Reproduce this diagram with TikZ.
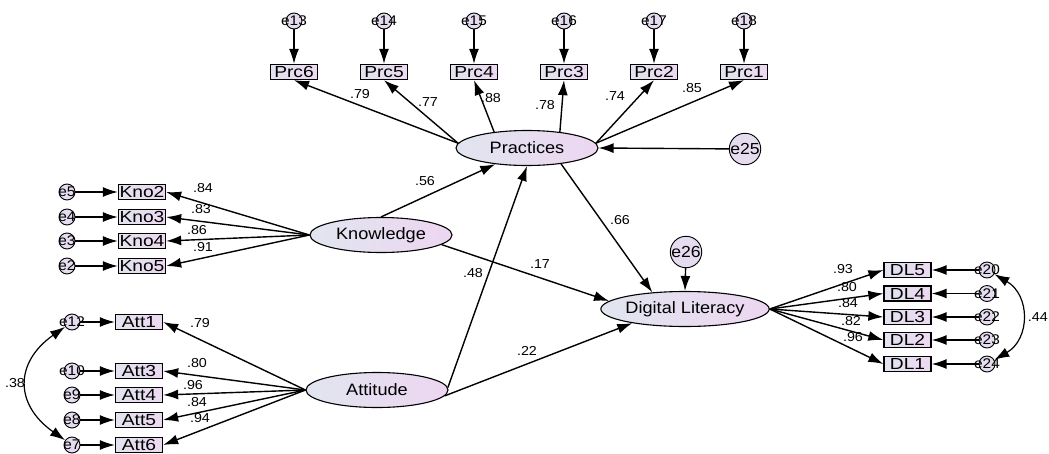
\documentclass[tikz,border=0pt]{standalone}
\usepackage{fontspec}
\setmainfont{Liberation Sans}[FakeStretch=1.1]
\newfontfamily\boxfont{Liberation Sans}[FakeStretch=1.2]
\usetikzlibrary{arrows.meta,shapes.geometric}

\definecolor{latL}{HTML}{E1E5EF}
\definecolor{latR}{HTML}{EDD6F1}
\definecolor{obsL}{HTML}{E2E3EE}
\definecolor{obsR}{HTML}{ECD9F1}
\definecolor{errfill}{HTML}{E6DCF0}

\tikzset{
  latent/.style={ellipse, draw, line width=1.1pt, left color=latL, right color=latR,
    minimum width=142pt, minimum height=35pt, inner sep=0pt, font=\fontsize{16.5}{18}\selectfont},
  obs/.style={rectangle, draw, line width=1.3pt, left color=obsL, right color=obsR,
    minimum width=47pt, minimum height=15pt, inner sep=0pt, font=\boxfont\fontsize{16}{16}\selectfont},
  errlab/.style={font=\fontsize{14}{14}\selectfont, inner sep=0pt},
  err/.style={circle, draw, line width=0.9pt, fill=errfill, minimum size=16pt, inner sep=0pt,
    label={[errlab]center:#1}},
  bigerr/.style={circle, draw, line width=0.9pt, fill=errfill, minimum size=30pt, inner sep=0pt,
    font=\fontsize{16}{16}\selectfont},
  arr/.style={line width=1.4pt, -{Latex[length=15pt,width=10pt]}},
  cov/.style={line width=1.2pt, {Latex[length=15pt,width=10pt]}-{Latex[length=15pt,width=10pt]}},
  coef/.style={font=\fontsize{13}{13}\selectfont, inner sep=1pt}
}

\begin{document}
\begin{tikzpicture}[x=1pt, y=1pt]
    \useasboundingbox (0,0) rectangle (1049,-453);

    % Latent variables
    \node[latent] (Pra) at (527,-148) {Practices};
    \node[latent] (Kno) at (381,-235) {Knowledge};
    \node[latent] (Att) at (377,-390) {Attitude};
    \node[latent] (DL) at (685,-309) {Digital Literacy};

    % Practices indicators with their errors
    \foreach \i/\x/\e/\a in {6/294/13/176, 5/384/14/176, 4/474/15/154, 3/564/16/26, 2/654/17/4, 1/744/18/4}{
        \node[obs] (Prc\i) at (\x,-72) {Prc\i};
        \node[err=e\e] (e\e) at (\x,-21) {};
        \draw[arr] (e\e) -- (Prc\i);
        \draw[arr] (Pra.\a) -- (Prc\i.south);
    }

    % Knowledge indicators
    \foreach \i/\y/\e in {2/192/5, 3/217/4, 4/241/3, 5/266/2}{
        \node[obs] (Kno\i) at (142,-\y) {Kno\i};
        \node[err=e\e] (e\e) at (67,-\y) {};
        \draw[arr] (e\e) -- (Kno\i);
        \draw[arr] (Kno.west) -- (Kno\i.east);
    }

    % Attitude indicators
    \foreach \i/\y/\e in {1/322/12, 3/371/10, 4/395/9, 5/420/8, 6/445/7}{
        \node[obs] (Att\i) at (139,-\y) {Att\i};
        \node[err=e\e] (e\e) at (72,-\y) {};
        \draw[arr] (e\e) -- (Att\i);
        \draw[arr] (Att.west) -- (Att\i.east);
    }

    % Digital literacy indicators
    \foreach \i/\y/\e in {5/270/20, 4/293.5/21, 3/317/22, 2/340/23, 1/364/24}{
        \node[obs] (DL\i) at (907.5,-\y) {DL\i};
        \node[err=e\e] (e\e) at (987,-\y) {};
        \draw[arr] (e\e) -- (DL\i);
        \draw[arr] (DL.east) -- (DL\i.west);
    }

    % Structural paths
    \draw[arr] (Kno.north) -- (Pra.207);
    \draw[arr] (Kno.351) -- (DL.174);
    \draw[arr] (Pra.335) -- (DL.153);
    \draw[arr] (Att.2) -- (Pra.south);
    \draw[arr] (Att.355) -- (DL.195);

    % Disturbances
    \node[bigerr] (e25) at (745,-149) {e25};
    \draw[arr] (e25) -- (Pra.east);
    \node[bigerr] (e26) at (686,-252) {e26};
    \draw[arr] (e26) -- (DL.north);

    % Covariances
    \draw[cov] (e12) to[out=215, in=145, looseness=1.4] (e7);
    \draw[cov] (e20) to[out=-30, in=30, looseness=1.25] (e24);

    % Coefficients
    \node[coef] (cPrc6) at (360,-94) {.79};
    \node[coef] (cPrc5) at (428,-102) {.77};
    \node[coef] (cPrc4) at (491,-98) {.88};
    \node[coef] (cPrc3) at (545,-105) {.78};
    \node[coef] (cPrc2) at (615,-96) {.74};
    \node[coef] (cPrc1) at (692,-88) {.85};
    \node[coef] (cKno2) at (203,-188) {.84};
    \node[coef] (cKno3) at (201,-209) {.83};
    \node[coef] (cKno4) at (197,-230) {.86};
    \node[coef] (cKno5) at (203,-247) {.91};
    \node[coef] (cAtt1) at (200,-323) {.79};
    \node[coef] (cAtt3) at (197,-363) {.80};
    \node[coef] (cAtt4) at (193,-385) {.96};
    \node[coef] (cAtt5) at (197,-402) {.84};
    \node[coef] (cAtt6) at (200,-418) {.94};
    \node[coef] (cDL5) at (843,-269) {.93};
    \node[coef] (cDL4) at (847,-287) {.80};
    \node[coef] (cDL3) at (848,-303) {.84};
    \node[coef] (cDL2) at (851,-321) {.82};
    \node[coef] (cDL1) at (853,-337) {.96};
    \node[coef] (cKP) at (425,-181) {.56};
    \node[coef] (cPD) at (620,-220) {.66};
    \node[coef] (cKD) at (540,-264) {.17};
    \node[coef] (cAP) at (473,-273) {.48};
    \node[coef] (cAD) at (527,-351) {.22};
    \node[coef] (c38) at (15,-383) {.38};
    \node[coef, anchor=east] (c44) at (1049,-317) {.44};
\end{tikzpicture}
\end{document}
